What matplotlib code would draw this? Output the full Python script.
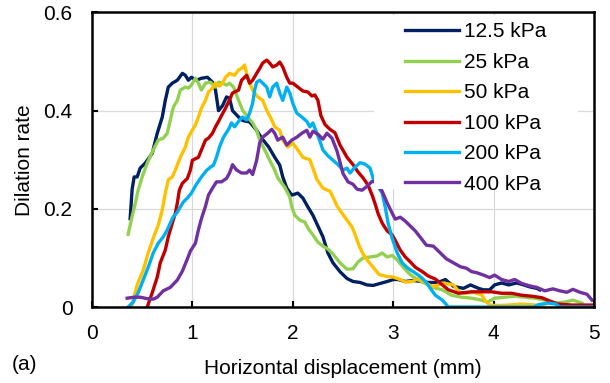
import matplotlib
matplotlib.use("Agg")
import matplotlib.pyplot as plt
from matplotlib.patches import Rectangle

plt.rcParams['font.family'] = ['Liberation Sans', 'DejaVu Sans']

# ---- data ----
x_125 = [0.38, 0.40, 0.42, 0.45, 0.48, 0.53, 0.60, 0.65, 0.70, 0.73, 0.76, 0.80, 0.85, 0.90, 0.93,
         0.96, 0.99, 1.04, 1.09, 1.15, 1.20, 1.23, 1.26, 1.30, 1.34, 1.37, 1.40, 1.46, 1.50, 1.57,
         1.64, 1.69, 1.76, 1.82, 1.87, 1.90, 1.94, 1.99, 2.05, 2.10, 2.15, 2.20, 2.25, 2.30, 2.35,
         2.40, 2.47, 2.54, 2.60, 2.67, 2.74, 2.80, 2.87, 2.94, 3.00, 3.05, 3.12, 3.20, 3.28, 3.35,
         3.42, 3.47, 3.52, 3.60, 3.70, 3.77, 3.85, 3.90, 3.96, 4.01, 4.08, 4.15, 4.23, 4.30, 4.36,
         4.43, 4.46]
y_125 = [0.18, 0.24, 0.265, 0.265, 0.283, 0.293, 0.313, 0.354, 0.387, 0.421, 0.448, 0.456, 0.462, 0.476, 0.472,
         0.462, 0.468, 0.462, 0.466, 0.468, 0.458, 0.442, 0.40, 0.41, 0.428, 0.425, 0.40, 0.387, 0.38, 0.377,
         0.36, 0.344, 0.326, 0.305, 0.289, 0.265, 0.242, 0.228, 0.232, 0.222, 0.204, 0.187, 0.165, 0.143, 0.11,
         0.09, 0.072, 0.058, 0.052, 0.05, 0.045, 0.044, 0.048, 0.052, 0.056, 0.056, 0.052, 0.054, 0.052, 0.05,
         0.05, 0.052, 0.056, 0.042, 0.038, 0.045, 0.038, 0.035, 0.035, 0.045, 0.049, 0.045, 0.049, 0.045, 0.041,
         0.038, 0.035]

x_25 = [0.36, 0.40, 0.43, 0.46, 0.50, 0.55, 0.61, 0.66, 0.71, 0.75, 0.78, 0.81, 0.85, 0.88, 0.93,
        0.96, 0.99, 1.03, 1.06, 1.09, 1.13, 1.18, 1.23, 1.26, 1.30, 1.34, 1.37, 1.41, 1.46, 1.50,
        1.55, 1.60, 1.64, 1.67, 1.72, 1.77, 1.82, 1.85, 1.92, 1.97, 1.99, 2.02, 2.07, 2.12, 2.15,
        2.20, 2.25, 2.30, 2.35, 2.40, 2.47, 2.54, 2.60, 2.65, 2.70, 2.77, 2.84, 2.89, 2.94, 2.99,
        3.04, 3.10, 3.17, 3.24, 3.30, 3.39, 3.49, 3.58, 3.68, 3.78, 3.88, 3.94, 4.01, 4.11, 4.21,
        4.31, 4.41, 4.51, 4.61, 4.71, 4.79, 4.88]
y_25 = [0.148, 0.185, 0.21, 0.238, 0.265, 0.293, 0.32, 0.34, 0.344, 0.354, 0.381, 0.407, 0.421, 0.442, 0.448,
        0.446, 0.452, 0.466, 0.456, 0.442, 0.456, 0.458, 0.448, 0.458, 0.456, 0.452, 0.456, 0.448, 0.421, 0.401,
        0.387, 0.375, 0.36, 0.34, 0.32, 0.299, 0.279, 0.263, 0.244, 0.224, 0.204, 0.187, 0.177, 0.173, 0.161,
        0.147, 0.132, 0.124, 0.118, 0.108, 0.09, 0.077, 0.078, 0.092, 0.10, 0.102, 0.104, 0.11, 0.102, 0.105,
        0.096, 0.081, 0.066, 0.056, 0.05, 0.04, 0.035, 0.024, 0.02, 0.018, 0.014, 0.01, 0.018, 0.02, 0.022,
        0.02, 0.018, 0.014, 0.008, 0.01, 0.014, 0.008]

x_50 = [0.40, 0.41, 0.45, 0.51, 0.56, 0.61, 0.66, 0.70, 0.73, 0.76, 0.80, 0.83, 0.88, 0.93, 0.96,
        0.99, 1.03, 1.06, 1.09, 1.13, 1.16, 1.20, 1.23, 1.27, 1.30, 1.33, 1.37, 1.42, 1.46, 1.49,
        1.52, 1.54, 1.57, 1.60, 1.65, 1.70, 1.74, 1.79, 1.82, 1.87, 1.90, 1.95, 2.00, 2.05, 2.10,
        2.17, 2.24, 2.30, 2.37, 2.40, 2.44, 2.49, 2.54, 2.59, 2.62, 2.66, 2.70, 2.74, 2.80, 2.86,
        2.94, 3.00, 3.07, 3.12, 3.19, 3.25, 3.32, 3.39, 3.45, 3.49, 3.55, 3.60, 3.66, 3.72, 3.80,
        3.88, 3.92, 3.96, 4.05, 4.15, 4.28, 4.40, 4.50]
y_50 = [0.004, 0.014, 0.045, 0.075, 0.11, 0.14, 0.167, 0.198, 0.232, 0.259, 0.265, 0.279, 0.305, 0.326, 0.346,
        0.357, 0.371, 0.387, 0.405, 0.421, 0.438, 0.446, 0.456, 0.45, 0.456, 0.468, 0.476, 0.472, 0.483, 0.486,
        0.493, 0.476, 0.456, 0.442, 0.428, 0.421, 0.401, 0.381, 0.367, 0.36, 0.34, 0.326, 0.334, 0.32, 0.305,
        0.30, 0.26, 0.242, 0.236, 0.224, 0.206, 0.191, 0.177, 0.163, 0.148, 0.125, 0.108, 0.096, 0.081, 0.066,
        0.062, 0.061, 0.056, 0.051, 0.052, 0.058, 0.05, 0.041, 0.045, 0.049, 0.047, 0.045, 0.03, 0.028, 0.03,
        0.025, 0.012, 0.004, 0.003, 0.004, 0.006, 0.004, 0.004]

x_100 = [0.55, 0.60, 0.65, 0.68, 0.73, 0.76, 0.80, 0.83, 0.85, 0.87, 0.90, 0.95, 0.98, 1.00, 1.06,
         1.09, 1.13, 1.16, 1.20, 1.23, 1.26, 1.29, 1.33, 1.36, 1.40, 1.46, 1.49, 1.54, 1.57, 1.60,
         1.64, 1.67, 1.70, 1.74, 1.77, 1.80, 1.84, 1.87, 1.90, 1.94, 1.97, 2.00, 2.05, 2.10, 2.15,
         2.19, 2.22, 2.25, 2.28, 2.32, 2.37, 2.42, 2.47, 2.54, 2.60, 2.65, 2.70, 2.75, 2.79, 2.82,
         2.85, 2.89, 2.94, 2.99, 3.02, 3.07, 3.12, 3.17, 3.22, 3.29, 3.35, 3.42, 3.49, 3.55, 3.65,
         3.78, 3.88, 3.98, 4.08, 4.18, 4.28, 4.38, 4.48, 4.54, 4.64, 4.78, 4.98]
y_100 = [0.0, 0.029, 0.061, 0.09, 0.116, 0.143, 0.171, 0.191, 0.212, 0.238, 0.252, 0.262, 0.279, 0.299, 0.305,
         0.32, 0.34, 0.344, 0.354, 0.367, 0.378, 0.39, 0.405, 0.418, 0.436, 0.442, 0.462, 0.472, 0.456, 0.462,
         0.476, 0.486, 0.497, 0.503, 0.497, 0.489, 0.493, 0.499, 0.489, 0.468, 0.456, 0.456, 0.448, 0.44, 0.438,
         0.43, 0.432, 0.421, 0.39, 0.372, 0.362, 0.355, 0.33, 0.305, 0.29, 0.275, 0.263, 0.248, 0.228, 0.21,
         0.19, 0.171, 0.155, 0.147, 0.136, 0.116, 0.102, 0.092, 0.081, 0.072, 0.063, 0.057, 0.045, 0.035, 0.028,
         0.031, 0.031, 0.031, 0.028, 0.028, 0.024, 0.022, 0.019, 0.014, 0.006, 0.004, 0.004]

x_200 = [0.36, 0.41, 0.46, 0.51, 0.56, 0.61, 0.66, 0.71, 0.75, 0.78, 0.81, 0.85, 0.88, 0.91, 0.95,
         0.99, 1.04, 1.09, 1.14, 1.18, 1.21, 1.24, 1.27, 1.31, 1.36, 1.39, 1.42, 1.47, 1.50, 1.54,
         1.57, 1.60, 1.62, 1.64, 1.67, 1.70, 1.74, 1.77, 1.80, 1.84, 1.87, 1.90, 1.94, 1.97, 2.00,
         2.04, 2.09, 2.14, 2.17, 2.20, 2.24, 2.27, 2.30, 2.35, 2.40, 2.45, 2.50, 2.54, 2.57, 2.62,
         2.67, 2.72, 2.77, 2.80, 2.89, 2.92, 2.95, 2.99, 3.04, 3.09, 3.14, 3.20, 3.27, 3.33, 3.38,
         3.42, 3.49, 3.55, 3.80, 4.10, 4.40, 4.45, 4.55, 4.62, 4.66, 5.00]
y_200 = [0.0, 0.01, 0.029, 0.055, 0.081, 0.11, 0.13, 0.143, 0.157, 0.171, 0.184, 0.193, 0.204, 0.214, 0.222,
         0.232, 0.25, 0.265, 0.278, 0.285, 0.289, 0.305, 0.326, 0.346, 0.362, 0.375, 0.367, 0.381, 0.387, 0.381,
         0.395, 0.415, 0.442, 0.458, 0.462, 0.456, 0.448, 0.428, 0.448, 0.456, 0.436, 0.421, 0.448, 0.436, 0.415,
         0.395, 0.387, 0.378, 0.367, 0.375, 0.354, 0.338, 0.32, 0.308, 0.299, 0.29, 0.279, 0.283, 0.273, 0.285,
         0.294, 0.291, 0.283, 0.262, 0.232, 0.204, 0.17, 0.14, 0.11, 0.09, 0.08, 0.072, 0.062, 0.05, 0.035,
         0.024, 0.014, 0.0, 0.0, 0.0, 0.0, 0.005, 0.008, 0.006, 0.0, 0.0]

x_400 = [0.35, 0.42, 0.48, 0.55, 0.61, 0.65, 0.71, 0.78, 0.85, 0.90, 0.95, 0.98, 1.03, 1.06, 1.09,
         1.13, 1.16, 1.20, 1.24, 1.29, 1.34, 1.37, 1.40, 1.44, 1.49, 1.54, 1.57, 1.60, 1.64, 1.67,
         1.70, 1.75, 1.79, 1.82, 1.85, 1.90, 1.94, 1.99, 2.04, 2.09, 2.14, 2.17, 2.20, 2.25, 2.30,
         2.34, 2.39, 2.44, 2.47, 2.50, 2.55, 2.60, 2.64, 2.69, 2.74, 2.79, 2.82, 2.89, 2.94, 2.99,
         3.02, 3.07, 3.12, 3.17, 3.22, 3.27, 3.33, 3.40, 3.47, 3.53, 3.60, 3.67, 3.73, 3.78, 3.83,
         3.90, 3.96, 4.01, 4.08, 4.15, 4.21, 4.28, 4.36, 4.43, 4.51, 4.59, 4.66, 4.73, 4.79, 4.86,
         4.93, 4.98]
y_400 = [0.018, 0.02, 0.02, 0.017, 0.016, 0.02, 0.033, 0.04, 0.055, 0.073, 0.098, 0.114, 0.13, 0.157, 0.18,
         0.205, 0.228, 0.242, 0.255, 0.255, 0.262, 0.273, 0.29, 0.279, 0.273, 0.273, 0.279, 0.27, 0.299, 0.334,
         0.346, 0.354, 0.362, 0.354, 0.34, 0.346, 0.33, 0.34, 0.346, 0.354, 0.36, 0.346, 0.358, 0.352, 0.342,
         0.354, 0.344, 0.318, 0.295, 0.272, 0.255, 0.25, 0.24, 0.238, 0.246, 0.256, 0.255, 0.236, 0.212, 0.191,
         0.179, 0.183, 0.175, 0.165, 0.155, 0.142, 0.126, 0.124, 0.11, 0.098, 0.09, 0.082, 0.079, 0.072, 0.07,
         0.065, 0.06, 0.065, 0.056, 0.052, 0.056, 0.048, 0.043, 0.04, 0.033, 0.037, 0.033, 0.03, 0.036, 0.03,
         0.026, 0.014]

series = [
    (x_125, y_125, '12.5 kPa', '#002060'),
    (x_25, y_25, '25 kPa', '#92D050'),
    (x_50, y_50, '50 kPa', '#FFC000'),
    (x_100, y_100, '100 kPa', '#C00000'),
    (x_200, y_200, '200 kPa', '#00B0F0'),
    (x_400, y_400, '400 kPa', '#7030A0'),
]

x_ticks = [0, 1, 2, 3, 4, 5]
y_ticks = [0, 0.2, 0.4, 0.6]
y_tick_labels = ['0', '0.2', '0.4', '0.6']

fig = plt.figure(figsize=(6.10, 3.83), dpi=100)
ax = fig.add_axes([0.1508, 0.1984, 0.823, 0.7690])

for xs, ys, lab, col in series:
    ax.plot(xs, ys, color=col, lw=2.4, label=lab, zorder=2, solid_joinstyle='round')

ax.set_xlim(0, 5)
ax.set_ylim(0, 0.6)
ax.set_xticks(x_ticks)
ax.set_xticklabels([str(t) for t in x_ticks])
ax.set_yticks(y_ticks)
ax.set_yticklabels(y_tick_labels)
ax.grid(True, color='#D9D9D9', lw=0.9, zorder=0)
ax.set_axisbelow(True)
ax.tick_params(direction='in', length=4, width=1.5, labelsize=15, colors='black')
ax.tick_params(axis='y', pad=14)
ax.tick_params(axis='x', pad=12)
for sp in ax.spines.values():
    sp.set_linewidth(1.8)
    sp.set_color('black')
    sp.set_zorder(6)

# white background behind the legend, as in the original
ax.add_patch(Rectangle((0.562, 0.40), 0.406, 0.59, transform=ax.transAxes,
                       facecolor='white', edgecolor='none', zorder=3))

ax.legend(loc='upper left', bbox_to_anchor=(0.6235, 0.966), frameon=False,
          fontsize=15, handlelength=2.6, handletextpad=0.25, labelspacing=0.55,
          borderpad=0, borderaxespad=0).set_zorder(5)

ax.set_xlabel('Horizontal displacement (mm)', fontsize=15, labelpad=12)
ax.set_ylabel('Dilation rate', fontsize=15, labelpad=7)
fig.text(0.02, 0.047, '(a)', fontsize=15, va='center')

fig.savefig('out.png', dpi=100)
